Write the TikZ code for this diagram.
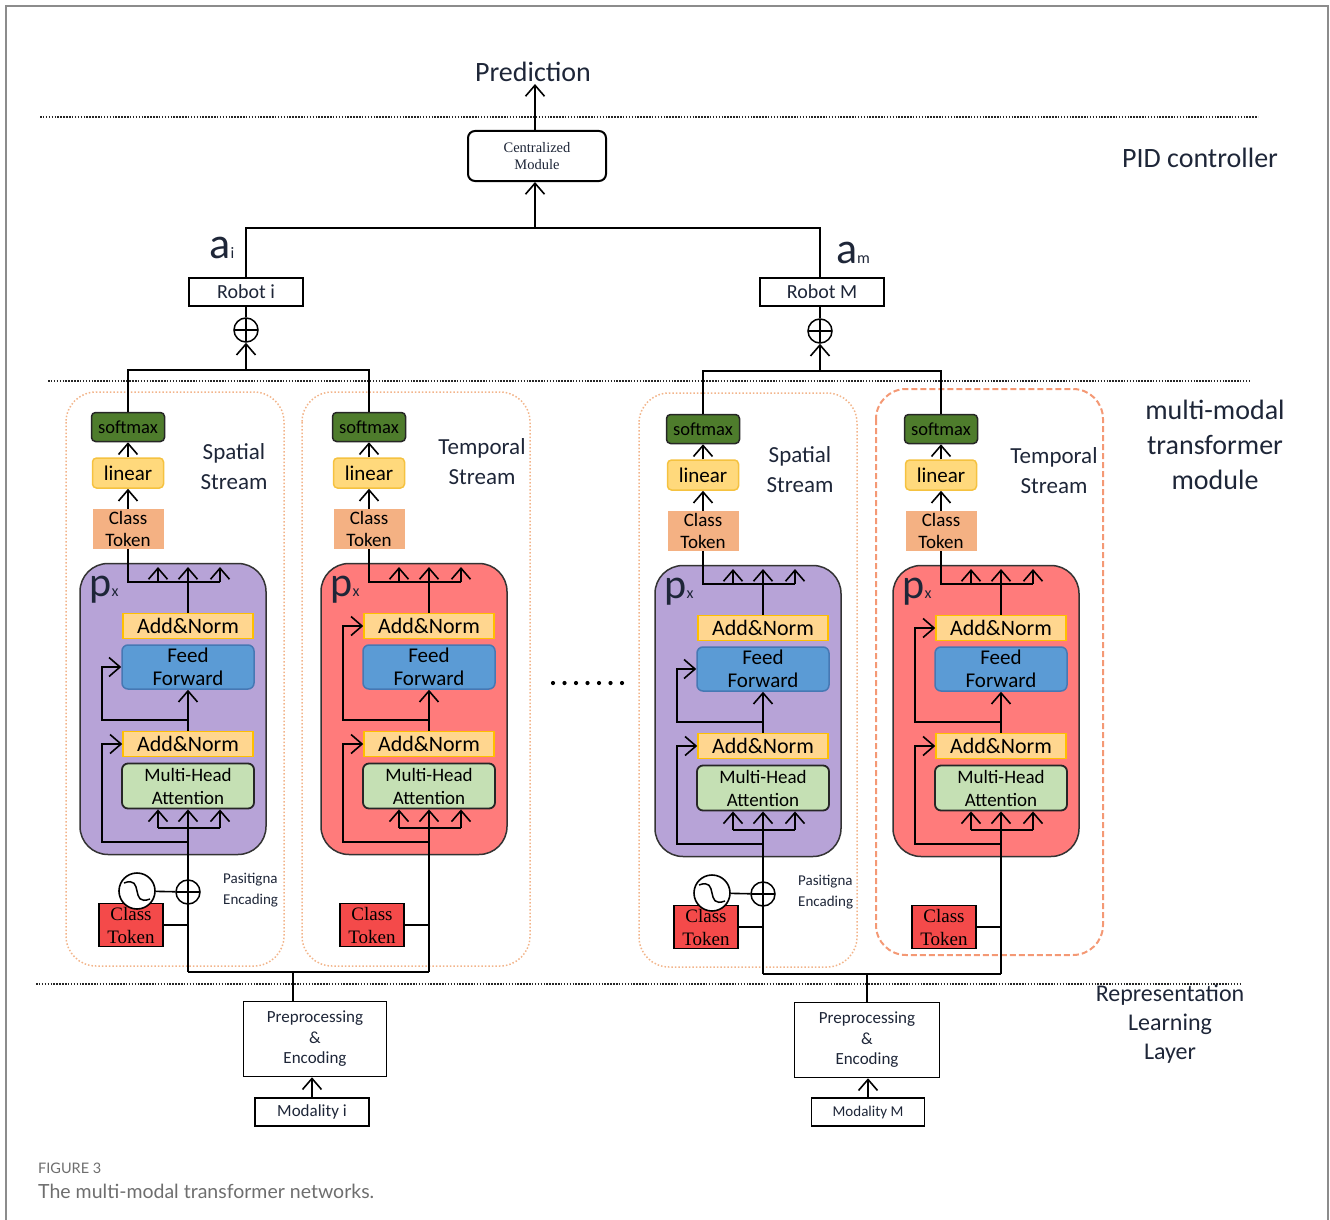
\documentclass[tikz,border=0pt]{standalone}
\usepackage{fontspec}
\setmainfont{Carlito}
\newfontfamily\serifface{Liberation Serif}
\newfontfamily\captionface{Lato}
\usetikzlibrary{arrows.meta}

\newcommand\fsz[2]{\fontsize{#1}{#2}\selectfont}

\definecolor{inkblue}{HTML}{1E2638}
\definecolor{softgreen}{HTML}{4E7C2C}
\definecolor{linfill}{HTML}{FFD97C}
\definecolor{linedge}{HTML}{F5C240}
\definecolor{clsfill}{HTML}{F4B183}
\definecolor{anfill}{HTML}{FFD68F}
\definecolor{anedge}{HTML}{FFC000}
\definecolor{fffill}{HTML}{5B9BD5}
\definecolor{ffedge}{HTML}{4678B4}
\definecolor{mhafill}{HTML}{C5E0B4}
\definecolor{pxpurple}{HTML}{B7A3D7}
\definecolor{pxred}{HTML}{FF7B7B}
\definecolor{tokred}{HTML}{F44A4A}
\definecolor{streamedge}{HTML}{F2B48A}
\definecolor{framegray}{HTML}{8C8C8C}
\definecolor{capgray}{HTML}{6E6E6E}

\tikzset{
  line/.style={line width=1.6pt},
  tip/.style={line width=1.6pt,-{Straight Barb[length=11pt,width=19pt]}},
  layer/.style={line width=1.5pt,dash pattern=on 1.5pt off 1.4pt,black!85},
  stream/.style={draw=streamedge,line width=1.5pt,dash pattern=on 1.5pt off 2pt,rounded corners=30pt},
  streamdash/.style={draw=streamedge!85!red,line width=2pt,dash pattern=on 6pt off 3pt,rounded corners=30pt},
  plainbox/.style={draw,line width=1.5pt,fill=white,inner sep=0pt,align=center,text=inkblue},
  softbox/.style={draw=black!85,line width=1.5pt,fill=softgreen,rounded corners=4pt,inner sep=0pt,
    minimum width=73pt,minimum height=29pt,font=\fsz{18.5pt}{18pt}},
  linbox/.style={draw=linedge,line width=1.5pt,fill=linfill,rounded corners=4pt,inner sep=0pt,
    minimum width=71pt,minimum height=30pt,font=\fsz{21pt}{21pt}},
  clsbox/.style={fill=clsfill,inner sep=0pt,align=center,minimum width=71pt,minimum height=40pt,
    font=\fsz{19pt}{22pt}},
  pxbox/.style={draw=black!80,line width=1.5pt,rounded corners=28pt,minimum width=186pt,minimum height=291pt},
  pxlabel/.style={inner sep=0pt,font=\fsz{42pt}{42pt},text=inkblue},
  anbox/.style={draw=anedge,line width=1.5pt,fill=anfill,inner sep=0pt,minimum width=130pt,minimum height=25pt,
    font=\fsz{22pt}{22pt}},
  ffbox/.style={draw=ffedge,line width=1.5pt,fill=fffill,rounded corners=6pt,inner sep=0pt,align=center,
    minimum width=132pt,minimum height=44pt,font=\fsz{21pt}{23pt}},
  mhabox/.style={draw=black!85,line width=1.8pt,fill=mhafill,rounded corners=6pt,inner sep=0pt,align=center,
    minimum width=132pt,minimum height=45pt,font=\fsz{19pt}{23pt}},
  tokbox/.style={draw,line width=1.2pt,fill=tokred,inner sep=0pt,align=center,minimum width=64pt,minimum height=43pt,
    font=\serifface\fsz{19pt}{23pt}},
  sumcirc/.style={circle,draw,line width=1.5pt,fill=white,minimum size=24pt,inner sep=0pt,
    path picture={\draw[line width=1.5pt] (path picture bounding box.north) -- (path picture bounding box.south)
      (path picture bounding box.west) -- (path picture bounding box.east);}},
  sinecirc/.style={circle,draw,line width=1.6pt,fill=white,minimum size=36pt,inner sep=0pt,
    path picture={\draw[line width=1.5pt] ([shift={(-13pt,8pt)}]path picture bounding box.center)
      .. controls ([shift={(8pt,16pt)}]path picture bounding box.center)
      and ([shift={(-8pt,-16pt)}]path picture bounding box.center)
      .. ([shift={(13pt,-8pt)}]path picture bounding box.center);}},
  enclabel/.style={anchor=west,inner sep=0pt,align=left,font=\fsz{15pt}{21pt},text=inkblue},
  streamtext/.style={inner sep=0pt,align=center,font=\fsz{23pt}{30pt},text=inkblue},
  layertext/.style={inner sep=0pt,align=center,font=\fsz{28pt}{35pt},text=inkblue},
}

% one transformer stream: prefix, shift x, shift y, block colour, target of the upper residual
\newcommand\transblock[5]{%
\begin{scope}[shift={(#2,#3)}]
  \node[softbox] (#1soft) at (0,427) {softmax};
  \node[linbox] (#1lin) at (0,473) {linear};
  \node[clsbox] (#1cls) at (0,529) {Class\\Token};
  \node[pxbox,fill=#4] (#1px) at (45,709) {};
  \node[pxlabel] (#1p) at (-24,590) {p{\fsz{16pt}{16pt}x}};
  \node[anbox] (#1anb) at (60,626) {Add\&Norm};
  \node[ffbox] (#1ff) at (60,667) {Feed\\Forward};
  \node[anbox] (#1ana) at (60,744) {Add\&Norm};
  \node[mhabox] (#1mha) at (60,786) {Multi-Head\\Attention};
  \node[tokbox] (#1tok) at (3,925) {Class\\Token};
  \coordinate (#1side) at (-26,0);
  \coordinate (#1roof) at (0,567);
  \coordinate (#1outl) at (30,582);
  \coordinate (#1outr) at (92,582);
  \coordinate (#1resb) at (60,720);
  \coordinate (#1inl) at (30,828);
  \coordinate (#1fan) at (60,828);
  \coordinate (#1inr) at (92,828);
  \coordinate (#1resa) at (60,842);
  \coordinate (#1in) at (60,972);
  % head
  \draw[tip] (#1cls) -- (#1lin);
  \draw[tip] (#1lin) -- (#1soft);
  \draw[line] (#1cls) -- (#1cls |- #1outr) -- (#1outr);
  \draw[tip] (#1outl) -- (#1outl |- #1roof);
  \draw[tip] (#1outr) -- (#1outr |- #1roof);
  \draw[tip] (#1anb) -- (#1anb |- #1roof);
  % encoder layer
  \draw[tip] (#1ana) -- (#1ff);
  \draw[tip] (#1resb) -- (#1resb -| #1side) |- (#1#5);
  \draw[tip] (#1resa) -- (#1resa -| #1side) |- (#1ana);
  \draw[line] (#1inl) -- (#1inr);
  \draw[tip] (#1inl) -- (#1inl |- #1mha.south);
  \draw[tip] (#1inr) -- (#1inr |- #1mha.south);
  \draw[tip] (#1fan) -- (#1mha);
  \draw[line] (#1in) -- (#1fan);
  \draw[line] (#1tok) -- (#1tok -| #1in);
\end{scope}}

% positional encoding of a spatial stream
\newcommand\posenc[3]{%
\begin{scope}[shift={(#2,#3)}]
  \node[sinecirc] (#1sin) at (9,891) {};
  \node[sumcirc] (#1sum) at (60,892) {};
  \node[enclabel] (#1enc) at (95,890) {Pasitigna\\Encading};
  \draw[line] (#1sin) -- (#1sum);
\end{scope}}

\begin{document}
\begin{tikzpicture}[x=1pt,y=-1pt]
\useasboundingbox (0,0) rectangle (1330,1220);
\draw[framegray,line width=2.5pt] (6,1224) -- (6,6) -- (1328,6) -- (1328,1224);

% layers
\draw[layer] (40,117) -- (1258,117);
\draw[layer] (48,381) -- (1250,381);
\draw[layer] (36,984) -- (1242,984);
\node[layertext] (pidlbl) at (1200,158) {PID controller};
\node[layertext] (mmlbl) at (1215,445) {multi-modal\\transformer\\module};
\node[inner sep=0pt,align=center,font=\fsz{24pt}{29pt},text=inkblue] (replbl) at (1170,1024) {Representation\\Learning\\Layer};

% streams
\draw[stream] (66,392) rectangle (284,966);
\draw[stream] (302,392) rectangle (530,966);
\draw[stream] (639,393) rectangle (857,967);
\draw[streamdash] (876,389) rectangle (1103,955);
\node[streamtext] (silbl) at (234,467) {Spatial\\Stream};
\node[streamtext] (tilbl) at (482,462) {Temporal\\Stream};
\node[streamtext] (smlbl) at (800,470) {Spatial\\Stream};
\node[streamtext] (tmlbl) at (1054,471) {Temporal\\Stream};

\transblock{si}{128}{0}{pxpurple}{ff}
\transblock{ti}{369}{0}{pxred}{anb}
\transblock{sm}{703}{2}{pxpurple}{ff}
\transblock{tm}{941}{2}{pxred}{anb}
\posenc{si}{128}{0}
\posenc{sm}{703}{2}

\foreach \k in {0,...,6} \fill (553+11.5*\k,683) circle (2.1pt);

% robots and controller
\node[sumcirc] (sumi) at (246,330) {};
\node[sumcirc] (summ) at (820,331) {};
\coordinate (joini) at (246,370);
\coordinate (joinm) at (820,371);
\draw[line] (sisoft) -- (sisoft |- joini) -- (tisoft |- joini) -- (tisoft);
\draw[line] (smsoft) -- (smsoft |- joinm) -- (tmsoft |- joinm) -- (tmsoft);
\draw[tip] (joini) -- (sumi);
\draw[tip] (joinm) -- (summ);
\node[plainbox,minimum width=114pt,minimum height=28pt,font=\fsz{20pt}{20pt}] (roboti) at (246,292) {Robot i};
\node[plainbox,minimum width=124pt,minimum height=28pt,font=\fsz{20pt}{20pt}] (robotm) at (822,292) {Robot M};
\draw[line] (sumi) -- (roboti);
\draw[line] (summ) -- (summ |- robotm.south);
\node[inner sep=0pt,font=\fsz{44pt}{44pt},text=inkblue] (ai) at (222,248) {a{\fsz{16pt}{16pt}i}};
\node[inner sep=0pt,font=\fsz{44pt}{44pt},text=inkblue] (am) at (853,253) {a{\fsz{16pt}{16pt}m}};
\coordinate (joint) at (535,228);
\draw[line] (roboti) -- (roboti |- joint) -- (summ |- joint) -- (summ |- robotm.north);
\node[plainbox,rounded corners=7pt,line width=2pt,minimum width=138pt,minimum height=50pt,
  font=\serifface\fsz{14.5pt}{17pt}] (central) at (537,156) {Centralized\\Module};
\draw[tip] (joint) -- (joint |- central.south);
\node[inner sep=2pt,font=\fsz{28pt}{28pt},text=inkblue] (pred) at (533,72) {Prediction};
\draw[tip] (central.north -| joint) -- (joint |- pred.south);

% inputs
\coordinate (busi) at (293,972);
\draw[line] (siin) -- (tiin);
\draw[line] (smin) -- (tmin);
\node[plainbox,minimum width=143pt,minimum height=75pt,font=\fsz{17pt}{20.5pt}] (prei) at (315,1039) {Preprocessing\\\&\\Encoding};
\node[plainbox,minimum width=145pt,minimum height=75pt,font=\fsz{17pt}{20.5pt}] (prem) at (867,1040) {Preprocessing\\\&\\Encoding};
\node[plainbox,minimum width=114pt,minimum height=28pt,font=\fsz{17pt}{17pt}] (modi) at (312,1112) {Modality i};
\node[plainbox,minimum width=113pt,minimum height=28pt,font=\fsz{15pt}{15pt}] (modm) at (868,1112) {Modality M};
\draw[line] (busi) -- (busi |- prei.north);
\draw[line] (prem) -- (prem |- smin);
\draw[tip] (modi) -- (modi |- prei.south);
\draw[tip] (modm) -- (modm |- prem.south);

% caption
\node[anchor=west,inner sep=0pt,font=\captionface\fsz{14.5pt}{14pt},text=capgray] (figno) at (38,1168) {FIGURE 3};
\node[anchor=west,inner sep=0pt,font=\captionface\fsz{19.5pt}{19pt},text=capgray] (figcap) at (38,1191) {The multi-modal transformer networks.};
\end{tikzpicture}
\end{document}
